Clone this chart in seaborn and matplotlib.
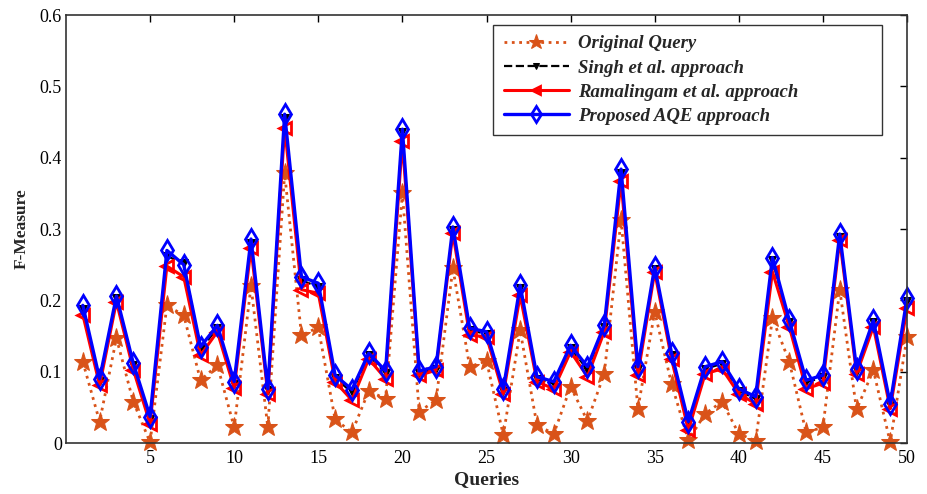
import matplotlib
matplotlib.use("Agg")
import matplotlib.pyplot as plt
import seaborn as sns
import pandas as pd
import numpy as np

queries = list(range(1, 51))

original = [0.114, 0.030, 0.147, 0.058, 0.001, 0.193, 0.179, 0.088, 0.109, 0.022,
            0.220, 0.022, 0.378, 0.151, 0.162, 0.033, 0.015, 0.073, 0.062, 0.350,
            0.044, 0.060, 0.245, 0.107, 0.115, 0.011, 0.158, 0.025, 0.013, 0.079,
            0.031, 0.097, 0.313, 0.048, 0.184, 0.083, 0.004, 0.041, 0.058, 0.013,
            0.003, 0.175, 0.114, 0.015, 0.022, 0.215, 0.047, 0.102, 0.001, 0.149]

singh = [0.188, 0.087, 0.203, 0.109, 0.034, 0.262, 0.252, 0.131, 0.161, 0.083,
         0.280, 0.074, 0.456, 0.228, 0.219, 0.091, 0.071, 0.123, 0.098, 0.436,
         0.098, 0.104, 0.299, 0.158, 0.153, 0.073, 0.217, 0.090, 0.083, 0.133,
         0.103, 0.163, 0.378, 0.104, 0.244, 0.123, 0.028, 0.104, 0.111, 0.073,
         0.062, 0.256, 0.169, 0.085, 0.092, 0.289, 0.101, 0.170, 0.053, 0.199]

ramalingam = [0.180, 0.081, 0.198, 0.103, 0.027, 0.248, 0.233, 0.123, 0.156, 0.077,
              0.273, 0.069, 0.442, 0.215, 0.210, 0.086, 0.060, 0.118, 0.090, 0.423,
              0.095, 0.102, 0.294, 0.151, 0.149, 0.069, 0.207, 0.086, 0.076, 0.128,
              0.093, 0.156, 0.367, 0.096, 0.240, 0.118, 0.018, 0.097, 0.104, 0.069,
              0.055, 0.240, 0.163, 0.076, 0.084, 0.285, 0.097, 0.163, 0.048, 0.189]

proposed = [0.193, 0.090, 0.206, 0.112, 0.037, 0.270, 0.250, 0.135, 0.165, 0.086,
            0.286, 0.076, 0.461, 0.233, 0.224, 0.095, 0.075, 0.126, 0.101, 0.440,
            0.101, 0.107, 0.303, 0.161, 0.156, 0.076, 0.221, 0.093, 0.086, 0.137,
            0.107, 0.165, 0.384, 0.107, 0.247, 0.126, 0.030, 0.107, 0.114, 0.076,
            0.065, 0.260, 0.172, 0.088, 0.095, 0.293, 0.104, 0.172, 0.055, 0.203]

labels = ["Original Query", "Singh et al. approach",
          "Ramalingam et al. approach", "Proposed AQE approach"]

df = pd.DataFrame({"Queries": queries, labels[0]: original, labels[1]: singh,
                   labels[2]: ramalingam, labels[3]: proposed})

sns.set_style("white")
plt.rcParams['font.family'] = ['Liberation Serif', 'DejaVu Serif']

fig = plt.figure(figsize=(9.28, 4.94), dpi=100)
ax = fig.add_axes([0.0711, 0.1032, 0.9063, 0.8664])

sns.lineplot(data=df, x="Queries", y=labels[0], ax=ax, color="#D95319",
             linestyle=":", linewidth=2, marker="*", markersize=14,
             markeredgecolor="#D95319", label=labels[0], clip_on=False)
sns.lineplot(data=df, x="Queries", y=labels[1], ax=ax, color="black",
             linestyle="--", linewidth=1.6, marker="v", markersize=6,
             markeredgecolor="black", label=labels[1], clip_on=False)
sns.lineplot(data=df, x="Queries", y=labels[2], ax=ax, color="red",
             linestyle="-", linewidth=2.2, marker="<", markersize=8,
             markerfacecolor="none", markeredgecolor="red", markeredgewidth=2,
             label=labels[2], clip_on=False)
sns.lineplot(data=df, x="Queries", y=labels[3], ax=ax, color="blue",
             linestyle="-", linewidth=2.4, marker="d", markersize=10,
             markerfacecolor="none", markeredgecolor="blue", markeredgewidth=2,
             label=labels[3], clip_on=False)

ax.set_xlim(0, 50)
ax.set_ylim(0, 0.6)
ax.set_xticks(range(5, 51, 5))
ax.set_yticks(np.arange(0, 0.61, 0.1))
ax.set_yticklabels(["0", "0.1", "0.2", "0.3", "0.4", "0.5", "0.6"])
ax.tick_params(direction="in", top=True, right=True, length=5, width=1,
               labelsize=13, colors="black", pad=3)
ax.tick_params(axis="x", pad=5)
for s in ax.spines.values():
    s.set_color("#333333")
    s.set_linewidth(1.2)

ax.set_xlabel("Queries", fontsize=14, fontweight="bold", labelpad=3)
ax.set_ylabel("F-Measure", fontsize=12.5, fontweight="bold", labelpad=7)

leg = ax.legend(loc="upper left", bbox_to_anchor=(0.508, 0.729, 0.462, 0.248),
                mode="expand",
                prop={"family": "Liberation Serif", "style": "italic",
                      "weight": "bold", "size": 13.5},
                frameon=True, fancybox=False, edgecolor="black",
                handlelength=3.5, borderpad=0.55, labelspacing=0.38,
                handletextpad=0.45, borderaxespad=0, markerscale=0.8)
leg.get_frame().set_linewidth(1.0)

fig.savefig("out.png", dpi=100)
